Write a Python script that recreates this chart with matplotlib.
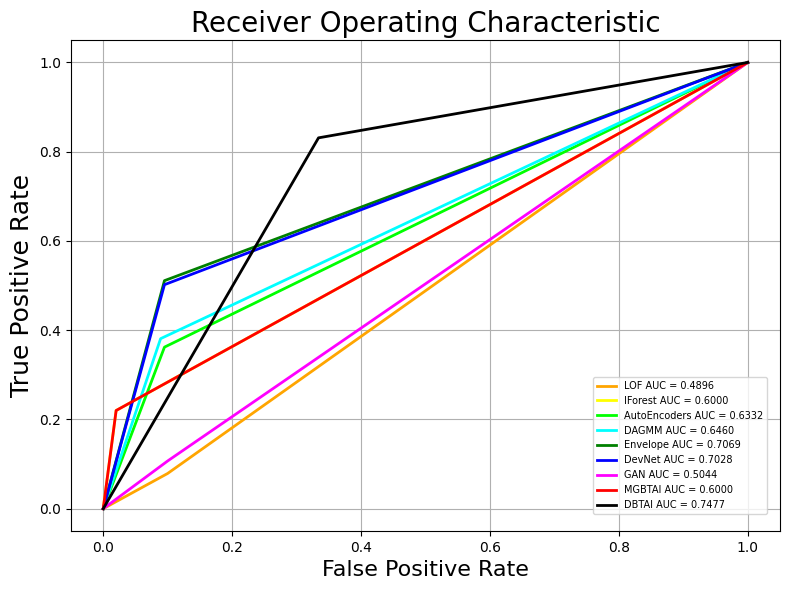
import matplotlib
matplotlib.use('Agg')
import matplotlib.pyplot as plt

# ROC points (fpr, tpr)
names = ['LOF', 'IForest', 'AutoEncoders', 'DAGMM', 'Envelope', 'DevNet', 'GAN', 'MGBTAI', 'DBTAI']
aucs = [0.4896, 0.6000, 0.6332, 0.6460, 0.7069, 0.7028, 0.5044, 0.6000, 0.7477]
fpr_lof = [0.0, 0.1, 1.0]
tpr_lof = [0.0, 0.079, 1.0]
fpr_iforest = [0.0, 0.02, 1.0]
tpr_iforest = [0.0, 0.22, 1.0]
fpr_ae = [0.0, 0.095, 1.0]
tpr_ae = [0.0, 0.362, 1.0]
fpr_dagmm = [0.0, 0.089, 1.0]
tpr_dagmm = [0.0, 0.381, 1.0]
fpr_env = [0.0, 0.095, 1.0]
tpr_env = [0.0, 0.511, 1.0]
fpr_devnet = [0.0, 0.095, 1.0]
tpr_devnet = [0.0, 0.502, 1.0]
fpr_gan = [0.0, 0.1, 1.0]
tpr_gan = [0.0, 0.107, 1.0]
fpr_mgbtai = [0.0, 0.02, 1.0]
tpr_mgbtai = [0.0, 0.22, 1.0]
fpr_dbtai = [0.0, 0.334, 1.0]
tpr_dbtai = [0.0, 0.831, 1.0]

curves = [
    (fpr_lof, tpr_lof, 'orange'),
    (fpr_iforest, tpr_iforest, 'yellow'),
    (fpr_ae, tpr_ae, 'lime'),
    (fpr_dagmm, tpr_dagmm, 'cyan'),
    (fpr_env, tpr_env, 'green'),
    (fpr_devnet, tpr_devnet, 'blue'),
    (fpr_gan, tpr_gan, 'magenta'),
    (fpr_mgbtai, tpr_mgbtai, 'red'),
    (fpr_dbtai, tpr_dbtai, 'black'),
]

plt.figure(figsize=(7.89, 5.9), dpi=100)
for name, auc, (fpr, tpr, color) in zip(names, aucs, curves):
    plt.plot(fpr, tpr, color=color, lw=2, label=f'{name} AUC = {auc:.4f}')

plt.title('Receiver Operating Characteristic', fontsize=20)
plt.xlabel('False Positive Rate', fontsize=16)
plt.ylabel('True Positive Rate', fontsize=18)
plt.grid()
# legend sits a bit in from the corner
plt.legend(loc='lower right', fontsize=7, bbox_to_anchor=(0.982, 0.035), borderaxespad=0)
plt.subplots_adjust(left=0.090, right=0.9886, top=0.932, bottom=0.100)
plt.savefig('out.png', dpi=100)
plt.close()
